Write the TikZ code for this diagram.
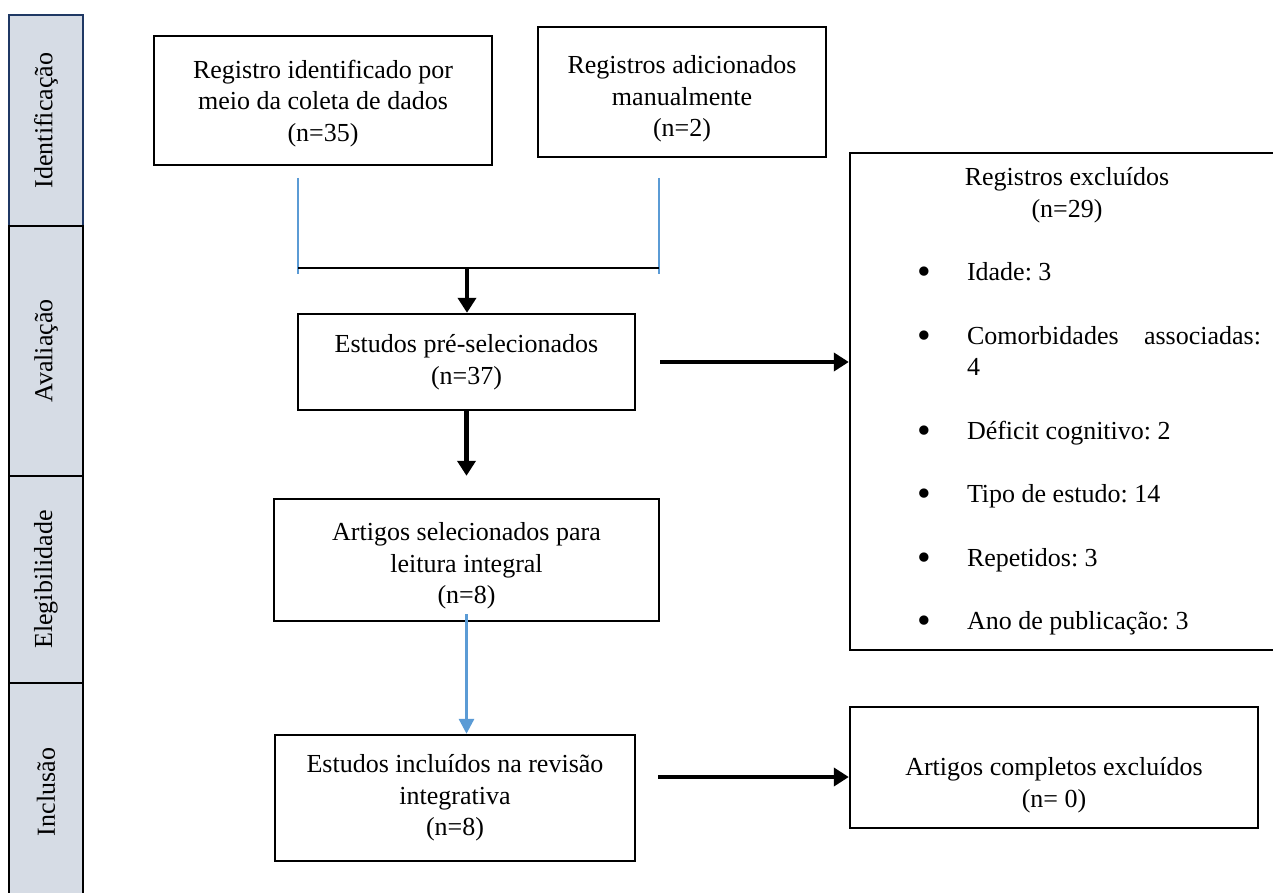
\documentclass[tikz,border=0pt]{standalone}
\usepackage{fontspec}
\usepackage{graphicx}
\setmainfont{Liberation Serif}
\usetikzlibrary{arrows.meta,calc}

\definecolor{sidefill}{HTML}{D6DCE5}
\definecolor{sidenavy}{HTML}{1F3864}
\definecolor{lineblue}{HTML}{5B9BD5}

\newcommand{\excitem}[1]{\par\vspace{16pt}\noindent\hangindent=47pt\hangafter=1%
 \hspace*{22pt}\makebox[25pt][l]{\raisebox{-0.35ex}{\scalebox{1.5}{\textbullet}}}#1}

\tikzset{
 wh/.style 2 args={minimum width=#1*0.5pt, minimum height=#2*0.5pt},
 box/.style={draw, line width=1.2pt, align=center, inner sep=2pt},
 side/.style={draw, line width=1pt, fill=sidefill, rotate=90, minimum height=37pt},
 arr/.style={line width=2.2pt, -{Triangle[width=9pt,length=7.5pt]}},
 bluearr/.style={lineblue, line width=1.5pt, -{Triangle[width=7.5pt,length=7.5pt]}},
 blueline/.style={lineblue, line width=0.6pt}
}

\begin{document}
\frenchspacing
\begin{tikzpicture}[x=0.5pt, y=-0.5pt, every node/.style={font=\fontsize{13}{15.75}\selectfont}]
\useasboundingbox (0,0) rectangle (1273,893);

% phases on the left
\node[side, draw=sidenavy, minimum width=211*0.5pt] (fase1) at (46,120.5) {Identificação};
\node[side, minimum width=250*0.5pt] (fase2) at (46,351) {Avaliação};
\node[side, minimum width=207*0.5pt] (fase3) at (46,579.5) {Elegibilidade};
\node[side, minimum width=218*0.5pt] (fase4) at (46,792) {Inclusão};

% boxes
\node[box, wh={338}{129}] (coleta) at (323,100.5) {\rule{0pt}{12pt}Registro identificado por\\meio da coleta de dados\\(n=35)};
\node[box, wh={288}{130}] (manual) at (682,92) {\rule{0pt}{16pt}Registros adicionados\\manualmente\\(n=2)};
\node[box, wh={337}{96}] (pre) at (466.5,362) {Estudos pré-selecionados\\(n=37)};
\node[box, wh={385}{122}] (sel) at (466.5,560) {\rule{0pt}{15pt}Artigos selecionados para\\leitura integral\\(n=8)};
\node[box, wh={360}{126}] (inc) at (455,798) {Estudos incluídos na revisão\\integrativa\\(n=8)};
\node[box, wh={408}{121}] (done) at (1054,767.5) {\rule{0pt}{27pt}Artigos completos excluídos\\(n= 0)};
\node[box, wh={434}{497}, align=justify, text width=194pt] (exc) at (1067,401.5) {\tolerance=10000
 {\centering Registros excluídos\\(n=29)\par}
 \excitem{Idade: 3}
 \excitem{Comorbidades associadas:\linebreak 4}
 \excitem{Déficit cognitivo: 2}
 \excitem{Tipo de estudo: 14}
 \excitem{Repetidos: 3}
 \excitem{Ano de publicação: 3}};

% bracket joining the two sources
\coordinate (b1) at (298,178);
\coordinate (b2) at (298,274);
\coordinate (b3) at (659,178);
\coordinate (b4) at (659,274);
\coordinate (h1) at (298,268);
\coordinate (h2) at (659,268);
\coordinate (hm) at (467,268);
\draw[blueline] (b1) -- (b2);
\draw[blueline] (b3) -- (b4);
\draw[line width=0.8pt] (h1) -- (h2);

% arrows
\draw[arr] (hm) -- (hm |- pre.north);
\draw[arr] (pre.south) -- ([yshift=11pt]sel.north);
\draw[bluearr] ([yshift=4pt]sel.south) -- (sel.south |- inc.north);
\draw[arr] ([xshift=12pt]pre.east) -- (pre.east -| exc.west);
\coordinate (a5) at ($(inc.east)+(22,-21)$);
\draw[arr] (a5) -- (a5 -| done.west);

\end{tikzpicture}
\end{document}
